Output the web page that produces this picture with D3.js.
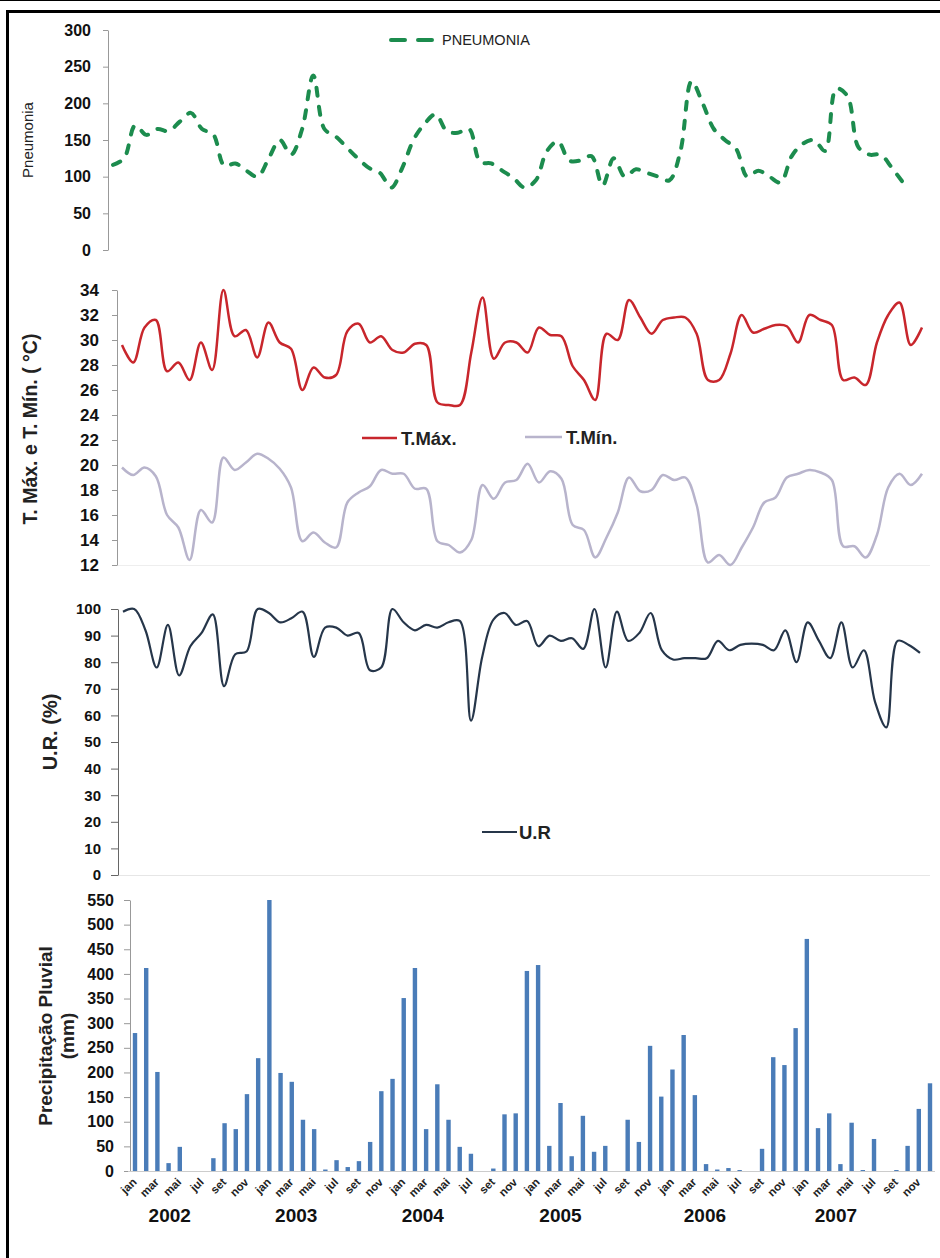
<!DOCTYPE html>
<html>
<head>
<meta charset="utf-8">
<script src="https://d3js.org/d3.v7.min.js"></script>
<style>
body { margin: 0; background: #fff; }
text { font-family: "Liberation Sans", Arial, sans-serif; }
</style>
</head>
<body>
<div id="my_dataviz"></div>
<script>

var monthNames = ['jan','fev','mar','abr','mai','jun','jul','ago','set','out','nov','dez'];
var years = ['2002','2003','2004','2005','2006','2007'];
// month index each year label sits under
var yearLabelAt = [3.1, 14.4, 25.7, 38, 50.9, 62.6];

var pneumonia = [116,125,170,157,165,162,175,187,165,158,115,118,
                 108,100,125,150,130,165,238,165,155,140,125,112,
                 105,85,112,150,172,185,162,160,165,120,118,108,
                 98,85,95,135,148,122,122,128,88,125,100,110,
                 105,100,95,135,230,200,165,150,138,100,108,100,
                 92,128,145,150,135,220,210,140,130,130,112,92];

var tMax = [29.6,28.2,31.0,31.6,27.5,28.2,26.8,29.8,27.6,34.0,30.3,30.8,
            28.6,31.4,29.8,29.3,26.0,27.8,27.0,27.2,30.7,31.3,29.8,30.3,
            29.2,29.0,29.7,29.6,25.0,24.8,24.8,29.0,33.4,28.5,29.8,29.8,
            29.0,31.0,30.4,30.3,27.9,26.8,25.2,30.5,30.0,33.2,31.8,30.5,
            31.6,31.8,31.8,30.5,26.8,26.8,28.9,32.0,30.6,30.9,31.2,31.1,
            29.8,32.0,31.6,31.2,26.8,27.0,26.4,29.8,32.0,33.0,29.6,31.0];

var tMin = [19.8,19.2,19.8,19.1,16.0,15.0,12.4,16.4,15.4,20.6,19.6,20.2,
            20.9,20.5,19.7,18.2,13.9,14.6,13.8,13.4,17.0,17.8,18.3,19.6,
            19.3,19.3,18.1,18.1,13.9,13.6,13.0,14.0,18.4,17.3,18.6,18.8,
            20.1,18.6,19.5,18.9,15.2,14.8,12.6,14.2,16.2,19.0,17.9,18.0,
            19.2,18.8,19.0,16.8,12.2,12.8,12.0,13.4,15.0,17.0,17.4,19.0,
            19.3,19.6,19.4,18.8,13.5,13.5,12.6,14.4,18.2,19.3,18.4,19.3];

var ur = [99,100,92,78,94,75,86,91,98,71,83,84,
          100,98.5,95,96.5,99,82,93,93,90,91,77,78,
          100,95,92,94,93,95,95.5,58,82,96,98.5,94,
          95.5,86,90,88,89,85,100,78,99,88,91,98.5,
          84.5,81,81.5,81.5,81.5,88,84.5,86.5,87,86.5,84.5,92,
          80,95,88,81.5,95,78,84.5,65,55.5,88,86.5,83.5];

var precip = [280,412,201,16,49,0,0,26,97,85,156,229,
              550,199,181,104,85,3,22,8,20,59,162,187,
              351,412,85,176,104,49,35,0,5,115,117,406,
              418,51,138,30,112,39,51,0,104,59,254,151,
              206,276,154,14,3,6,2,0,45,231,215,290,
              471,87,117,14,98,2,65,0,2,51,126,178];

var pneuTicks = [0,50,100,150,200,250,300];
var tempTicks = [12,14,16,18,20,22,24,26,28,30,32,34];
var urTicks = [0,10,20,30,40,50,60,70,80,90,100];
var precipTicks = [0,50,100,150,200,250,300,350,400,450,500,550];

var width = 940, height = 1258;
var fontFam = '"Liberation Sans", Arial, sans-serif';

var svg = d3.select("#my_dataviz")
    .append("svg")
      .attr("width", width)
      .attr("height", height);

svg.append("rect").attr("width", width).attr("height", height).attr("fill", "#fff");

// frame
svg.append("line").attr("x1", 0).attr("x2", width).attr("y1", 0.5).attr("y2", 0.5)
    .attr("stroke", "#000").attr("stroke-width", 1);
svg.append("line").attr("x1", 6).attr("x2", width).attr("y1", 11.5).attr("y2", 11.5)
    .attr("stroke", "#000").attr("stroke-width", 3);
svg.append("line").attr("x1", 7.5).attr("x2", 7.5).attr("y1", 10).attr("y2", height)
    .attr("stroke", "#000").attr("stroke-width", 3);

function yAxis(y, ticks, x0, tickLen, pad, fontSize, axisColor) {
    var g = svg.append("g")
        .attr("transform", "translate(" + x0 + ",0)")
        .call(d3.axisLeft(y).tickValues(ticks).tickSize(tickLen).tickSizeOuter(0).tickPadding(pad))
        .attr("font-family", fontFam)
        .attr("font-size", fontSize)
        .attr("font-weight", "bold");
    g.select(".domain").attr("stroke", axisColor);
    g.selectAll(".tick line").attr("stroke", axisColor);
    g.selectAll(".tick text").attr("fill", "#111");
    return g;
}

function axisTitle(lines, x, y, size, weight) {
    var t = svg.append("text")
        .attr("transform", "translate(" + x + "," + y + ") rotate(-90)")
        .attr("text-anchor", "middle")
        .attr("font-size", size)
        .attr("font-weight", weight)
        .attr("fill", "#222");
    lines.forEach(function(s, i) {
        t.append("tspan").attr("x", 0).attr("dy", i == 0 ? 0 : "1.15em").text(s);
    });
}

function legendItem(x1, x2, y, color, width, dash, label, size, weight, gap) {
    var l = svg.append("line").attr("x1", x1).attr("x2", x2).attr("y1", y).attr("y2", y)
        .attr("stroke", color).attr("stroke-width", width);
    if (dash) l.attr("stroke-dasharray", dash).attr("stroke-linecap", "round");
    svg.append("text").attr("x", x2 + gap).attr("y", y).attr("dy", "0.36em")
        .attr("font-size", size).attr("font-weight", weight).attr("fill", "#222")
        .text(label);
}

// ---------- Pneumonia ----------
var xPn = d3.scaleLinear().domain([0, 71]).range([113, 903]);
var yPn = d3.scaleLinear().domain([0, 300]).range([250, 30]);

yAxis(yPn, pneuTicks, 108, 5, 12, 16, "#999");
axisTitle(["Pneumonia"], 33, 140, 15, "normal");

svg.append("path")
    .datum(pneumonia)
    .attr("fill", "none")
    .attr("stroke", "#1c8c4e")
    .attr("stroke-width", 4)
    .attr("stroke-linecap", "round")
    .attr("stroke-dasharray", "8,11")
    .attr("d", d3.line().x(function(d, i) { return xPn(i); }).y(function(d) { return yPn(d); })
        .curve(d3.curveCatmullRom.alpha(0.5)));

legendItem(391, 433, 40, "#1c8c4e", 4, "14,13", "PNEUMONIA", 14.5, "normal", 9);

// ---------- Temperatures ----------
var xT = d3.scaleLinear().domain([0, 71]).range([122, 922]);
var yT = d3.scaleLinear().domain([12, 34]).range([565, 290]);

svg.append("line").attr("x1", 117).attr("x2", 930).attr("y1", 565.5).attr("y2", 565.5)
    .attr("stroke", "#eee");
yAxis(yT, tempTicks, 117, 5, 13, 17, "#999");
axisTitle(["T. Máx. e T. Mín. ( °C)"], 37, 429, 19.5, "bold");

var lineT = d3.line().x(function(d, i) { return xT(i); }).y(function(d) { return yT(d); })
    .curve(d3.curveCatmullRom.alpha(0.5));

svg.append("path").datum(tMin)
    .attr("fill", "none").attr("stroke", "#b8b4cc").attr("stroke-width", 2.5)
    .attr("d", lineT);
svg.append("path").datum(tMax)
    .attr("fill", "none").attr("stroke", "#c8262c").attr("stroke-width", 2.5)
    .attr("d", lineT);

legendItem(362, 397, 438, "#c8262c", 2.5, null, "T.Máx.", 18.5, "bold", 4);
legendItem(525, 562, 437, "#b8b4cc", 2.5, null, "T.Mín.", 18.5, "bold", 4);

// ---------- U.R. ----------
var xU = d3.scaleLinear().domain([0, 71]).range([123, 920]);
var yU = d3.scaleLinear().domain([0, 100]).range([875, 609]);

svg.append("line").attr("x1", 118).attr("x2", 930).attr("y1", 875.5).attr("y2", 875.5)
    .attr("stroke", "#e6e6e6");
yAxis(yU, urTicks, 118, 7, 10, 15, "#666");
axisTitle(["U.R. (%)"], 57, 732, 20, "bold");

svg.append("path").datum(ur)
    .attr("fill", "none").attr("stroke", "#26364a").attr("stroke-width", 2.2)
    .attr("d", d3.line().x(function(d, i) { return xU(i); }).y(function(d) { return yU(d); })
        .curve(d3.curveCatmullRom.alpha(0.5)));

legendItem(482, 517, 832, "#26364a", 2.2, null, "U.R", 18.5, "bold", 2);

// ---------- Precipitação ----------
var xP = d3.scaleLinear().domain([0, 71]).range([135, 930]);
var yP = d3.scaleLinear().domain([0, 550]).range([1171, 900]);

yAxis(yP, precipTicks, 130, 6, 10, 16, "#999");
axisTitle(["Precipitação Pluvial", "(mm)"], 52, 1036, 19, "bold");

svg.append("g")
    .selectAll("rect")
    .data(precip)
    .enter()
    .append("rect")
    .attr("x", function(d, i) { return xP(i) - 2.2; })
    .attr("width", 4.4)
    .attr("y", function(d) { return yP(d); })
    .attr("height", function(d) { return yP(0) - yP(d); })
    .attr("fill", "#4a7cb8");

var evenMonths = precip.map(function(d, i) { return i; }).filter(function(i) { return i % 2 == 0; });

var xAx = svg.append("g")
    .attr("transform", "translate(0," + yP(0) + ")")
    .call(d3.axisBottom(xP).tickValues(evenMonths).tickSize(0).tickSizeOuter(0)
        .tickFormat(function(i) { return monthNames[i % 12]; }))
    .attr("font-family", fontFam)
    .attr("font-size", 11.5);
xAx.select(".domain").attr("stroke", "#ccc").attr("d", "M128,0.5H935");
xAx.selectAll(".tick text")
    .attr("fill", "#222")
    .attr("font-weight", "bold")
    .attr("y", 0)
    .attr("dy", "0.35em")
    .attr("text-anchor", "end")
    .attr("transform", "translate(-1,9) rotate(-45)");

svg.append("g")
    .selectAll("text")
    .data(years)
    .enter()
    .append("text")
    .attr("x", function(d, i) { return xP(yearLabelAt[i]); })
    .attr("y", 1222)
    .attr("text-anchor", "middle")
    .attr("font-size", 19)
    .attr("font-weight", "bold")
    .attr("fill", "#111")
    .text(function(d) { return d; });

</script>
</body>
</html>
